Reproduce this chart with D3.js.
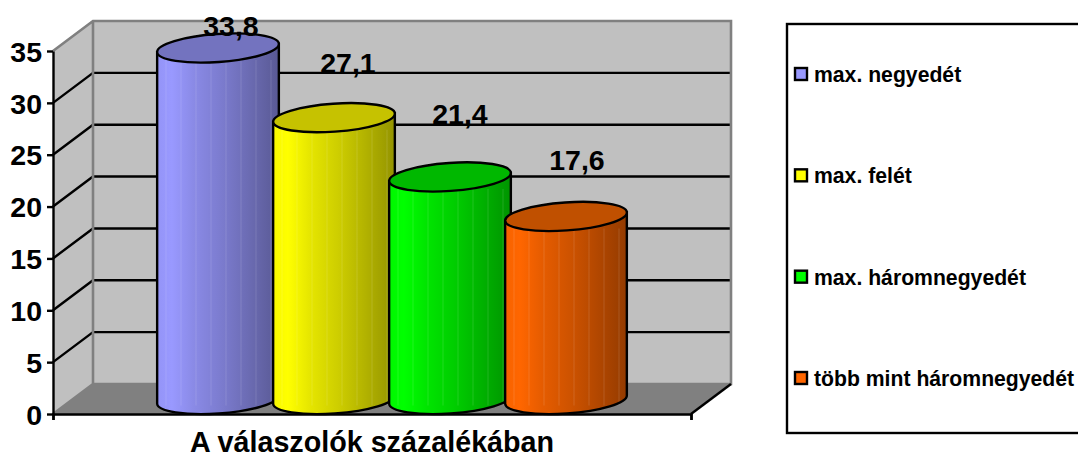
<!DOCTYPE html>
<html>
<head>
<meta charset="utf-8">
<script src="https://cdn.jsdelivr.net/npm/d3@7"></script>
<style>
  html, body { margin: 0; padding: 0; background: #fff; }
  svg { display: block; }
  text { font-family: "Liberation Sans", Arial, sans-serif; font-weight: bold; fill: #000; }
</style>
</head>
<body>
<div id="chart"></div>
<script>
// values
var categories = ["max. negyedét", "max. felét", "max. háromnegyedét", "több mint háromnegyedét"];
var values = [33.8, 27.1, 21.4, 17.6];
var valueLabels = ["33,8", "27,1", "21,4", "17,6"];
var yTicks = [0, 5, 10, 15, 20, 25, 30, 35];
var axisTitle = "A válaszolók százalékában";
var baseColors = ["#9999ff", "#ffff00", "#00ff00", "#ff6600"];
var topColors = ["#7373bf", "#c6c200", "#00b800", "#c05000"];

var width = 1078, height = 458;
var depthX = 40, depthY = -30;
var frontLeft = 53, frontRight = 691;

var svg = d3.select("#chart").append("svg")
  .attr("width", width)
  .attr("height", height);
var defs = svg.append("defs");

// the scale of the front plane, the back wall is the same thing moved by the depth
var y = d3.scaleLinear().domain([0, 35]).range([414, 51]);
var yBar = d3.scaleLinear().domain([0, 35]).range([399.5, 35.5]);
var x = d3.scaleBand().domain(categories).range([160, 624]);

// walls and floor
var backLeft = frontLeft + depthX, backRight = frontRight + depthX;
var yBottom = y(0), yTop = y(35);
var poly = function (pts, fill) {
  return svg.append("polygon").attr("points", pts.map(function (p) { return p.join(","); }).join(" ")).attr("fill", fill);
};
poly([[backLeft, yTop + depthY], [backRight, yTop + depthY], [backRight, yBottom + depthY], [backLeft, yBottom + depthY]], "#c0c0c0");
poly([[frontLeft, yTop], [backLeft, yTop + depthY], [backLeft, yBottom + depthY], [frontLeft, yBottom]], "#c0c0c0");
poly([[frontLeft, yBottom], [backLeft, yBottom + depthY], [backRight, yBottom + depthY], [frontRight, yBottom]], "#808080");

// gridlines
var grid = svg.append("g");
yTicks.slice(1, -1).forEach(function (t) {
  grid.append("path")
    .attr("d", "M" + frontLeft + "," + y(t) + "L" + backLeft + "," + (y(t) + depthY) + "L" + backRight + "," + (y(t) + depthY))
    .attr("fill", "none").attr("stroke", "#000").attr("stroke-width", 2.4);
});

// grey edges of the walls
svg.append("path")
  .attr("d", "M" + frontLeft + "," + yTop + "L" + backLeft + "," + (yTop + depthY) + "L" + backRight + "," + (yTop + depthY) + "L" + backRight + "," + (yBottom + depthY) + "L" + backLeft + "," + (yBottom + depthY) + "L" + backLeft + "," + (yTop + depthY) + "M" + backLeft + "," + (yBottom + depthY) + "L" + frontLeft + "," + yBottom)
  .attr("fill", "none").attr("stroke", "#808080").attr("stroke-width", 2.6);
svg.append("path")
  .attr("d", "M" + frontRight + "," + yBottom + "L" + backRight + "," + (yBottom + depthY))
  .attr("fill", "none").attr("stroke", "#000").attr("stroke-width", 2.4);

// cylinders
var rx = 61, ry = 14, tilt = -4;
var bars = svg.append("g");
categories.forEach(function (c, i) {
  var color = d3.color(baseColors[i]);
  var id = "body" + i;
  var grad = defs.append("linearGradient").attr("id", id);
  // stepped like the old office gradients
  var steps = [[0, 0.97], [0.12, 1], [0.3, 0.9], [0.55, 0.8], [0.8, 0.68], [1, 0.58]];
  steps.forEach(function (s) {
    grad.append("stop").attr("offset", s[0])
      .attr("stop-color", d3.rgb(color.r * s[1], color.g * s[1], color.b * s[1]));
  });

  var cx = x(c) + x.bandwidth() / 2;
  var cyTop = yBar(values[i]), cyBot = yBar(0);
  var g = bars.append("g");
  var dy = rx * Math.sin(tilt * Math.PI / 180);
  var dx = rx * Math.cos(tilt * Math.PI / 180);

  // side of the cylinder
  var d = "M" + (cx - dx) + "," + (cyTop - dy)
    + "L" + (cx - dx) + "," + (cyBot - dy)
    + "A" + rx + "," + ry + " " + tilt + " 0 0 " + (cx + dx) + "," + (cyBot + dy)
    + "L" + (cx + dx) + "," + (cyTop + dy)
    + "Z";
  g.append("path").attr("d", d).attr("fill", "url(#" + id + ")");

  // faint vertical streaks
  d3.range(-52, 58, 15).forEach(function (o) {
    g.append("line")
      .attr("x1", cx + o).attr("x2", cx + o)
      .attr("y1", cyTop + 12).attr("y2", cyBot + 6)
      .attr("stroke", "#fff").attr("stroke-opacity", 0.13).attr("stroke-width", 1);
  });

  g.append("path").attr("d", d).attr("fill", "none").attr("stroke", "#000").attr("stroke-width", 2.4);
  g.append("ellipse")
    .attr("transform", "translate(" + cx + "," + cyTop + ") rotate(" + tilt + ")")
    .attr("rx", rx).attr("ry", ry)
    .attr("fill", topColors[i]).attr("stroke", "#000").attr("stroke-width", 2.4);
});

// axis
var yAxis = d3.axisLeft(y).tickValues(yTicks).tickSize(6).tickSizeOuter(0).tickPadding(5);
var axisG = svg.append("g").attr("transform", "translate(" + frontLeft + ",0)").call(yAxis);
axisG.selectAll("path,line").attr("stroke", "#000").attr("stroke-width", 2.4);
axisG.selectAll("text").style("font-size", "28.5px").attr("fill", "#000").attr("dy", "0.36em");

// bottom axis line with its two end ticks
var xAxis = d3.axisBottom(d3.scaleLinear().domain([0, 1]).range([frontLeft, frontRight]))
  .tickValues([0, 1]).tickSize(6).tickFormat("");
var xAxisG = svg.append("g").attr("transform", "translate(0," + yBottom + ")").call(xAxis);
xAxisG.selectAll("path,line").attr("stroke", "#000").attr("stroke-width", 2.4);

// value labels
var labelDx = [13, 14, 10, 11], labelY = [36, 73, 124, 170];
svg.append("g").selectAll("text").data(valueLabels).enter().append("text")
  .attr("x", function (d, i) { return x(categories[i]) + x.bandwidth() / 2 + labelDx[i]; })
  .attr("y", function (d, i) { return labelY[i]; })
  .attr("text-anchor", "middle")
  .style("font-size", "28.5px")
  .text(function (d) { return d; });

svg.append("text")
  .attr("x", 372).attr("y", 451.5)
  .attr("text-anchor", "middle")
  .style("font-size", "28.7px")
  .text(axisTitle);

// legend
svg.append("rect")
  .attr("x", 787).attr("y", 24).attr("width", 294).attr("height", 409)
  .attr("fill", "#fff").attr("stroke", "#000").attr("stroke-width", 2.4);
var legendY = d3.scalePoint().domain(categories).range([74, 378]);
var legend = svg.append("g").selectAll("g").data(categories).enter().append("g")
  .attr("transform", function (d) { return "translate(0," + legendY(d) + ")"; });
legend.append("rect")
  .attr("x", 795).attr("y", -6).attr("width", 12).attr("height", 12)
  .attr("fill", function (d, i) { return baseColors[i]; })
  .attr("stroke", "#000").attr("stroke-width", 2.4);
legend.append("text")
  .attr("x", 814).attr("y", 8)
  .style("font-size", "21.2px")
  .text(function (d) { return d; });
</script>
</body>
</html>
